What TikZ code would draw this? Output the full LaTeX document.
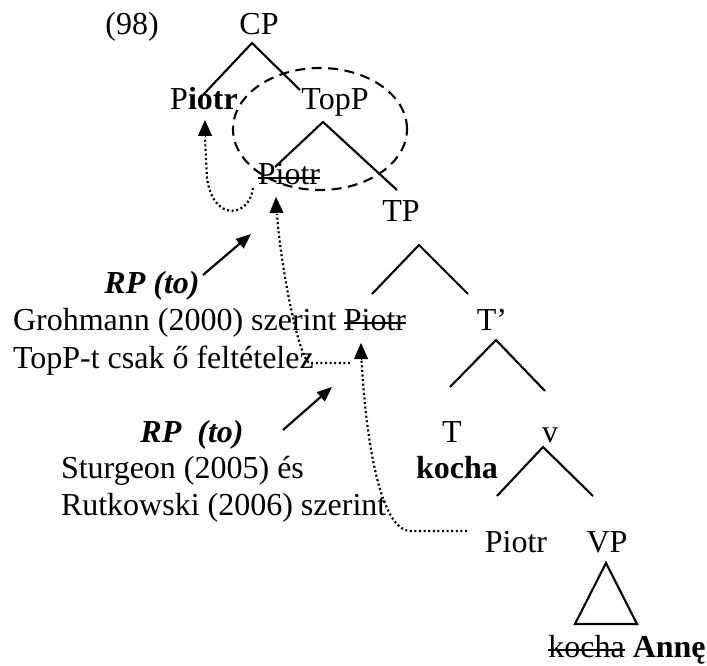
\documentclass[tikz,border=0pt]{standalone}
\usepackage{fontspec}
\setmainfont{Liberation Serif}
\usetikzlibrary{arrows.meta,calc}
% struck-through word
\newcommand\strk[1]{\setbox0=\hbox{#1}\rlap{\rule[0.2em]{\wd0}{0.065em}}\box0\relax}
\begin{document}
\begin{tikzpicture}[x=1pt,y=-1pt,
  every node/.style={inner sep=0pt,outer sep=0pt,font=\fontsize{32}{38}\selectfont},
  lbl/.style={anchor=base},
  lft/.style={anchor=base west},
  branch/.style={line width=2.1pt},
  trace/.style={line width=2.2pt,dash pattern=on 2pt off 2.6pt},
  movetip/.style={-{Triangle[length=16pt,width=14pt]}},
  pointer/.style={line width=2.2pt,-{Triangle[length=15pt,width=12pt]}},
  zone/.style={line width=2.1pt,dash pattern=on 10pt off 6.5pt}]
\useasboundingbox (0,0) rectangle (707,666);

% tree labels
\node[lbl] (ex)     at (132,35)  {(98)};
\node[lbl] (CP)     at (259,35)  {CP};
\node[lbl] (spCP)   at (204,110) {P\textbf{iotr}};
\node[lbl] (TopP)   at (335,110) {TopP};
\node[lbl] (spTop)  at (289,185) {\strk{Piotr}};
\node[lbl] (TP)     at (401,221) {TP};
\node[lbl] (spTP)   at (375,330) {\strk{Piotr}};
\node[lbl] (Tbar)   at (492,330) {T’};
\node[lbl] (T)      at (452,442) {T};
\node[lbl] (Tv)     at (457,478) {\textbf{kocha}};
\node[lbl] (vP)     at (550,442) {v};
\node[lbl] (spvP)   at (516,552) {Piotr};
\node[lbl] (VP)     at (607,552) {VP};
\node[lbl] (VPc)    at (627,657) {\strk{kocha} \textbf{Annę}};

% annotations
\node[lbl] (rp1)    at (152,293) {\textbf{\textit{RP (to)}}};
\node[lft] (groh1)  at (13,330)  {Grohmann (2000) szerint};
\node[lft] (groh2)  at (13,368)  {TopP-t csak ő feltételez};
\node[lbl] (rp2)    at (192,442) {\textbf{\textit{RP\ \ (to)}}};
\node[lft] (stur1)  at (61,478)  {Sturgeon (2005) és};
\node[lft] (stur2)  at (61,515)  {Rutkowski (2006) szerint};

% branches
\draw[branch] ($(spCP.base)+(-1,-15)$) -- ($(CP.base)+(-7,8)$) -- ($(TopP.base)+(-35,-20)$);
\draw[branch] ($(spTop.base)+(-14,-18)$) -- ($(TopP.base)+(-12,12)$) -- ($(TP.base)+(-4,-31)$);
\draw[branch] ($(spTP.base)+(-3,-36)$) -- ($(TP.base)+(18,24)$) -- ($(Tbar.base)+(-24,-36)$);
\draw[branch] ($(T.base)+(-2,-55)$) -- ($(Tbar.base)+(4,10)$) -- ($(vP.base)+(-5,-51)$);
\draw[branch] ($(spvP.base)+(-19,-56)$) -- ($(vP.base)+(-7,5)$) -- ($(VP.base)+(-14,-56)$);
\draw[branch,line join=miter] ($(VP.base)+(-1,11)$) -- ($(VPc.base)+(10,-33)$) -- ($(VPc.base)+(-52,-33)$) -- cycle;

% topic region
\draw[zone] (320,129) ellipse [x radius=87pt, y radius=61pt];

% movement traces
\draw[trace] ($(spTop.base)+(-36,3)$) .. controls (249,218) and (213,222) .. (207,178)
  -- (205,138);
\draw[movetip] (205,137) -- ($(spCP.base)+(1,10)$);

\draw[trace] ($(spTP.base)+(-25,33)$) -- (310,363) .. controls (299,362) and (280,262) .. (277,214);
\draw[movetip] (276.5,213) -- ($(spTop.base)+(-13,12)$);

\draw[trace] ($(spvP.base)+(-49,-21)$) -- (410,531) .. controls (386,530) and (368,470) .. (361.5,360);
\draw[movetip] (361,359) -- ($(spTP.base)+(-14,13)$);

% pointers to the landing sites
\coordinate (p1s) at (203,275);
\coordinate (p1e) at (251,234);
\coordinate (p2s) at (283,430);
\coordinate (p2e) at (332,387);
\draw[pointer] (p1s) -- (p1e);
\draw[pointer] (p2s) -- (p2e);
\end{tikzpicture}
\end{document}
